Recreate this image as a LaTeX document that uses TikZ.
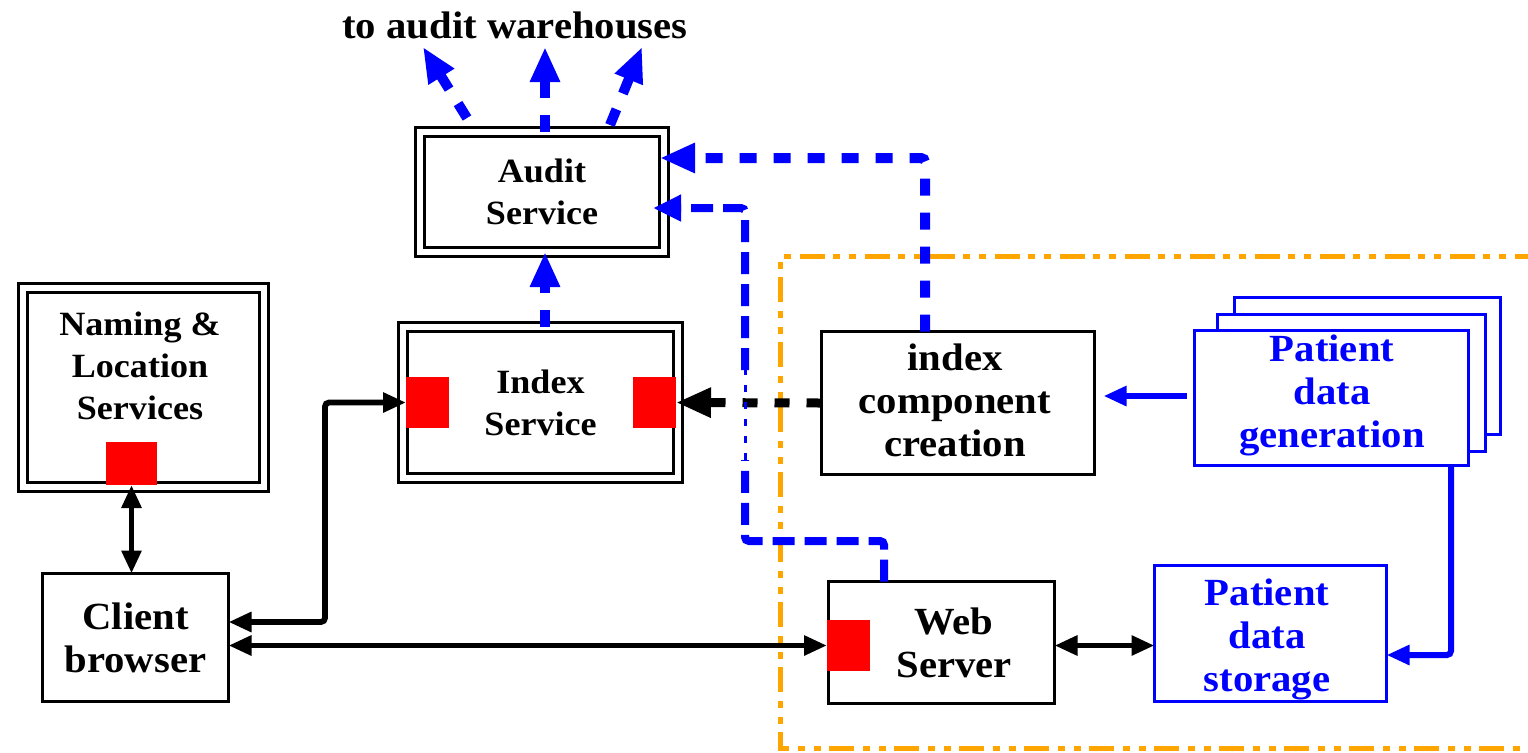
\documentclass[tikz,border=0pt]{standalone}
\usepackage{fontspec}
\setmainfont[FakeStretch=1.06]{Liberation Serif}
\usetikzlibrary{arrows.meta,calc}
\definecolor{orng}{RGB}{255,165,0}
\definecolor{bl}{RGB}{0,0,255}
\definecolor{rd}{RGB}{255,0,0}
\tikzset{
  tipS/.tip={Triangle[length=11.5pt,width=9.5pt]},
  tipL/.tip={Triangle[length=17.5pt,width=14pt]},
  tipM/.tip={Triangle[length=14pt,width=12.5pt]},
}
\begin{document}
\begin{tikzpicture}[x=0.5pt,y=-0.5pt,
  every node/.style={font=\fontsize{17}{21}\selectfont\bfseries, align=center, inner sep=0pt, outer sep=0pt},
  big/.style={font=\fontsize{19.2}{21.5}\selectfont\bfseries},
  dbox/.style={draw, line width=1.5pt, double, double distance=3pt, fill=white},
  sbox/.style={draw, line width=1.5pt, fill=white},
  bbox/.style={draw=bl, line width=1.5pt, fill=white, text=bl},
  redsq/.style={fill=rd, draw=none},
  blk/.style={line width=2.9pt, black},
  bsolid/.style={bl, line width=3pt},
  bdash/.style={bl, line width=5pt, dash pattern=on 8.5pt off 8.5pt},
  bdashm/.style={bl, line width=4pt, dash pattern=on 11pt off 5pt},
  kdash/.style={black, line width=4.5pt, dash pattern=on 7.5pt off 8.5pt},
  frame/.style={orng, line width=2.5pt, dash pattern=on 12.5pt off 4.5pt on 3.5pt off 4.5pt on 3.5pt off 4pt},
]
\useasboundingbox (0,0) rectangle (1528,752);
\clip (0,0) rectangle (1528,752);

% orange frame
\coordinate (f1) at (1540,256.5);
\coordinate (f2) at (780.5,256.5);
\coordinate (f3) at (780.5,748.5);
\coordinate (f4) at (1540,748.5);
\draw[frame] (f1) -- (f2) -- (f3) -- (f4);

% title
\node[font=\fontsize{19.2}{22}\selectfont\bfseries] (title) at (515,25) {to audit warehouses};

% boxes
\node[dbox, minimum width=122pt, minimum height=60pt] (audit) at (542,192) {Audit\\Service};

\node[dbox, minimum width=120.5pt, minimum height=99.5pt] (naming) at (143.5,387.5) {};
\node (namingtxt) at (140,366) {Naming \&\\Location\\Services};
\node[redsq, minimum width=25.5pt, minimum height=21.5pt] (nred) at (131.5,463.5) {};

\node[dbox, minimum width=137.5pt, minimum height=75.5pt] (index) at (540.5,402.5) {Index\\Service};
\node[redsq, minimum width=21.5pt, minimum height=25.5pt] (ileft) at (427.5,402.5) {};
\node[redsq, minimum width=21.5pt, minimum height=25.5pt] (iright) at (654.5,402.5) {};

\node[sbox, minimum width=136.5pt, minimum height=71.5pt] (icc) at (958,403) {};
\node[big] (icctxt) at (955,400) {index\\component\\creation};

\node[bbox, minimum width=133pt, minimum height=68.5pt] (pdg3) at (1367.5,365.5) {};
\node[bbox, minimum width=134pt, minimum height=68.5pt] (pdg2) at (1351,382.5) {};
\node[bbox, minimum width=137pt, minimum height=67.5pt] (pdg) at (1331.5,398) {};
\node[big, text=bl] (pdgtxt) at (1332,395) {Patient\\data\\generation};

\node[sbox, big, minimum width=93pt, minimum height=64pt] (client) at (135.5,637.5) {Client\\browser};

\node[sbox, minimum width=113pt, minimum height=61pt] (web) at (941.5,642.5) {};
\node[big] (webtxt) at (954,642.5) {Web\\Server};
\node[redsq, minimum width=21.5pt, minimum height=25.5pt] (wred) at (848.5,645.5) {};

\node[bbox, minimum width=116pt, minimum height=68pt] (store) at (1270.5,633.5) {};
\node[big, text=bl] (storetxt) at (1267,639) {Patient\\data\\storage};

% black solid connectors
\draw[blk, tipS-tipS] (nred.south) -- (nred.south |- client.north);
\coordinate (c1) at (325,622);
\draw[blk, rounded corners=2pt, tipS-tipS] (ileft.west) -| (c1) -- (c1 -| client.east);
\draw[blk, tipS-tipS] (wred.west -| client.east) -- (wred.west);
\draw[blk, tipS-tipS] (wred.west -| web.east) -- (wred.west -| store.west);

% black dashed
\draw[kdash, -tipL] (icc.west) -- (iright.east);

% blue solid
\draw[bsolid, shorten <=4pt, shorten >=4.5pt, -tipS] ([yshift=1pt]pdg.west) -- ([yshift=1pt]pdg.west -| icc.east);
\coordinate (c7) at (1451,655);
\draw[bsolid, rounded corners=2pt, -tipS] (pdg.south -| c7) -- (c7) -- (c7 -| store.east);

% blue dashed: index -> audit
\coordinate (a8) at (545,0);
\draw[bdash, -tipL] (index.north -| a8) -- (audit.south -| a8);

% to audit warehouses
\coordinate (w1s) at (467,118);
\coordinate (w1e) at (423,47);
\coordinate (w2e) at (545,47);
\coordinate (w3s) at (610,125);
\coordinate (w3e) at (642,47);
\draw[bdash, -tipL] (w1s) -- (w1e);
\draw[bdash, -tipL] (audit.north -| a8) -- (w2e);
\draw[bdash, -tipL] (w3s) -- (w3e);

% icc -> audit
\coordinate (c9) at (925,158);
\draw[bdash, rounded corners=2pt, shorten >=-2pt, -tipL] (icc.north -| c9) -- (c9) -- (c9 -| audit.east);

% web -> audit
\coordinate (c10a) at (884,541);
\coordinate (c10b) at (745,541);
\coordinate (c10c) at (745,460);
\coordinate (c10d) at (745,370);
\coordinate (c10e) at (745,208);
\draw[bdashm, rounded corners=2pt] (web.north -| c10a) -- (c10a) -- (c10b) -- (c10c);
\draw[bl, line width=1.5pt, dash pattern=on 3.5pt off 5pt] (c10c) -- (c10d);
\draw[bdashm, rounded corners=2pt, shorten >=-5.5pt, -tipM] (c10d) -- (c10e) -- (c10e -| audit.east);
\end{tikzpicture}
\end{document}
